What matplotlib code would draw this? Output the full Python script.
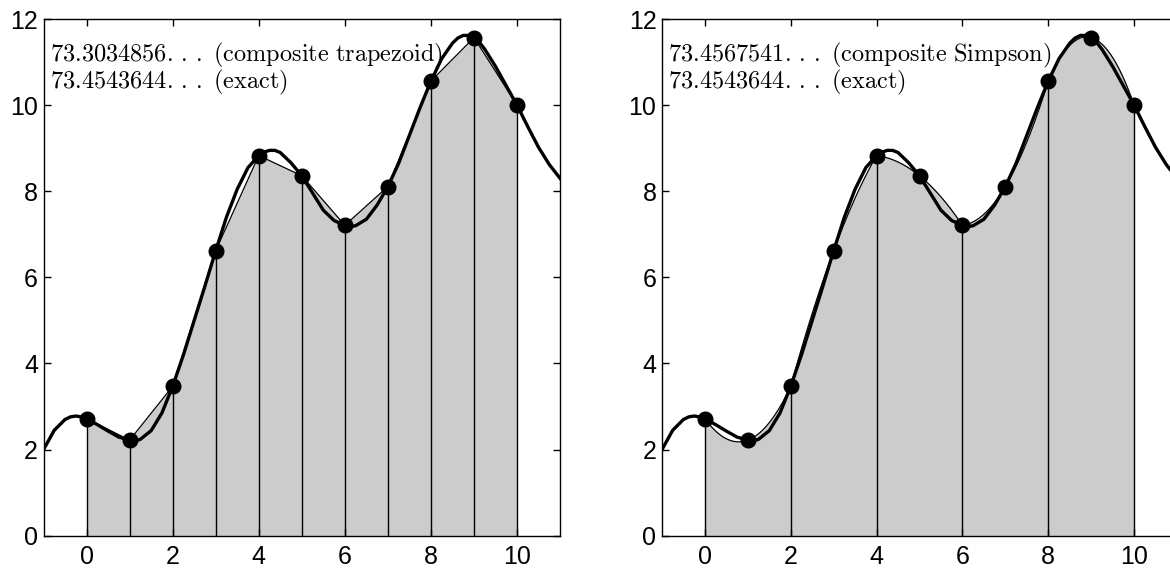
import numpy as np
import matplotlib
matplotlib.use("Agg")
import matplotlib.pyplot as plt

plt.rcParams['mathtext.fontset'] = 'cm'
plt.rcParams['font.family'] = ['Liberation Sans', 'DejaVu Sans']

# sample points (nodes)
x_samples = [0, 1, 2, 3, 4, 5, 6, 7, 8, 9, 10]
y_samples = [2.72, 2.22, 3.47, 6.62, 8.83, 8.36, 7.21, 8.11, 10.56, 11.57, 10.00]

# exact function
curve_x = [-1.0, -0.75, -0.5, -0.375, -0.25, -0.125,
           0.0, 0.25, 0.5, 0.75,
           1.0, 1.125, 1.25, 1.5, 1.75,
           2.0, 2.25, 2.5, 2.75,
           3.0, 3.25, 3.5, 3.75,
           4.0, 4.125, 4.25, 4.375, 4.5, 4.75,
           5.0, 5.25, 5.5, 5.75,
           6.0, 6.125, 6.25, 6.5, 6.75,
           7.0, 7.25, 7.5, 7.75,
           8.0, 8.25, 8.5, 8.625, 8.75, 8.875,
           9.0, 9.125, 9.25, 9.5, 9.75,
           10.0, 10.25, 10.5, 10.75, 11.0]
curve_y = [2.00, 2.45, 2.70, 2.76, 2.78, 2.76,
           2.72, 2.58, 2.43, 2.29,
           2.22, 2.20, 2.24, 2.44, 2.85,
           3.47, 4.20, 5.00, 5.80,
           6.62, 7.40, 8.05, 8.55,
           8.83, 8.91, 8.95, 8.95, 8.90, 8.66,
           8.36, 7.96, 7.56, 7.32,
           7.21, 7.18, 7.20, 7.35, 7.68,
           8.11, 8.65, 9.30, 9.95,
           10.56, 11.08, 11.44, 11.56, 11.62, 11.62,
           11.57, 11.46, 11.30, 10.90, 10.45,
           10.00, 9.50, 9.02, 8.62, 8.30]

labels = [r"$\mathrm{73.3034856.\,.\,.\ (composite\ trapezoid)}$",
          r"$\mathrm{73.4567541.\,.\,.\ (composite\ Simpson)}$"]
exact_label = r"$\mathrm{73.4543644.\,.\,.\ (exact)}$"

xticks = [0, 2, 4, 6, 8, 10]
yticks = [0, 2, 4, 6, 8, 10, 12]

fig = plt.figure(figsize=(11.70, 5.69), dpi=100)
ax1 = fig.add_axes([0.0372, 0.0585, 0.4415, 0.908])
ax2 = fig.add_axes([0.5658, 0.0585, 0.4402, 0.908])

GRAY = '#cccccc'


def style(ax):
    ax.set_xlim(-1, 11)
    ax.set_ylim(0, 12)
    ax.set_xticks(xticks)
    ax.set_yticks(yticks)
    ax.tick_params(direction='in', length=5, width=1, top=True, right=True,
                   labelsize=18)
    ax.tick_params(axis='x', pad=7)
    ax.tick_params(axis='y', pad=4)
    for s in ax.spines.values():
        s.set_linewidth(1.0)


xs = np.array(x_samples, dtype=float)
ys = np.array(y_samples, dtype=float)

# --- composite trapezoid ---
ax1.fill_between(xs, 0, ys, color=GRAY, lw=0, zorder=1)
ax1.vlines(xs, 0, ys, color='black', lw=1.0, zorder=2)
ax1.plot(xs, ys, color='black', lw=0.9, zorder=3)
ax1.plot(curve_x, curve_y, color='black', lw=2.4, zorder=4,
         solid_joinstyle='round')
ax1.plot(xs, ys, 'o', color='black', ms=10.5, zorder=5)

# --- composite Simpson ---
px_all, py_all = [], []
for i in range(0, len(xs) - 1, 2):
    seg_x = xs[i:i + 3]
    seg_y = ys[i:i + 3]
    coef = np.polyfit(seg_x, seg_y, 2)
    fx = np.linspace(seg_x[0], seg_x[-1], 60)
    px_all.append(fx)
    py_all.append(np.polyval(coef, fx))
px_all = np.concatenate(px_all)
py_all = np.concatenate(py_all)
ax2.fill_between(px_all, 0, py_all, color=GRAY, lw=0, zorder=1)
ax2.vlines(xs[::2], 0, ys[::2], color='black', lw=1.0, zorder=2)
ax2.plot(px_all, py_all, color='black', lw=0.9, zorder=3)
ax2.plot(curve_x, curve_y, color='black', lw=2.4, zorder=4,
         solid_joinstyle='round')
ax2.plot(xs, ys, 'o', color='black', ms=10.5, zorder=5)

for ax, lab in zip([ax1, ax2], labels):
    style(ax)
    ax.text(0.012, 0.930, lab, transform=ax.transAxes, fontsize=17.5,
            ha='left', va='center', zorder=6)
    ax.text(0.012, 0.877, exact_label, transform=ax.transAxes, fontsize=17.5,
            ha='left', va='center', zorder=6)

fig.savefig('out.png', dpi=100)
